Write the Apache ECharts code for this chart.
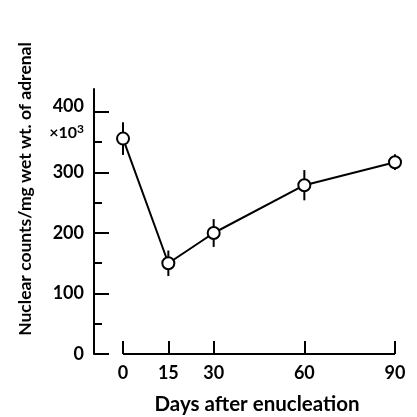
<!DOCTYPE html>
<html>
<head>
<meta charset="utf-8">
<script src="https://cdn.jsdelivr.net/npm/echarts@6/dist/echarts.min.js"></script>
<style>
html,body{margin:0;padding:0;background:#fff;}
#container{width:417px;height:417px;}
</style>
</head>
<body>
<div id="container"></div>
<script>
// days after enucleation and nuclear counts (x10^3)
var days = [0, 15, 30, 60, 90];
var counts = [356, 150, 200, 279, 317];
var errs = [27, 21, 23, 25, 13];
var xTicks = [0, 15, 30, 60, 90];
var yMajor = [0, 100, 200, 300, 400];
var yMinor = [50, 150, 250, 350];

var font = 'Lato';
var fw = 'bold';
var dom = document.getElementById('container');
var myChart = echarts.init(dom);

var lineData = [];
var barData = [];
for (var i = 0; i < days.length; i++) {
	lineData.push([days[i], counts[i]]);
	barData.push([days[i], counts[i] - errs[i], counts[i] + errs[i]]);
}

var option = {
	backgroundColor: '#fff',
	animation: false,
	grid: { left: 94, right: 22, top: 89, bottom: 63, containLabel: false, outerBoundsMode: 'none' },
	xAxis: {
		type: 'value',
		min: -9.6,
		max: 90,
		name: 'Days after enucleation',
		nameLocation: 'middle',
		nameGap: 40,
		nameTextStyle: { fontFamily: font, fontWeight: fw, fontSize: 20.5, color: '#000', padding: [0, 0, 0, 25] },
		axisLine: { show: false, onZero: false },
		splitLine: { show: false },
		axisTick: { show: true, inside: true, length: 13, customValues: xTicks, lineStyle: { color: '#000', width: 2 } },
		axisLabel: { customValues: xTicks, margin: 10, fontFamily: font, fontWeight: fw, fontSize: 18, color: '#000' }
	},
	yAxis: [{
		type: 'value',
		min: 0,
		max: 438,
		position: 'left',
		axisLine: { show: true, onZero: false, lineStyle: { color: '#000', width: 2 } },
		splitLine: { show: false },
		axisTick: { show: true, inside: true, length: 15, customValues: yMajor, lineStyle: { color: '#000', width: 2 } },
		axisLabel: {
			customValues: yMajor,
			margin: 10,
			fontFamily: font,
			fontWeight: fw,
			fontSize: 18,
			color: '#000',
			formatter: function (v) {
				if (v === 400) return '{a|400}\n{b|×10}{c|3}';
				return v;
			},
			rich: {
				a: { fontFamily: font, fontWeight: fw, fontSize: 18, color: '#000', lineHeight: 42 },
				b: { fontFamily: font, fontWeight: fw, fontSize: 16, color: '#000', lineHeight: 12 },
				c: { fontFamily: font, fontWeight: fw, fontSize: 12, color: '#000', lineHeight: 12, padding: [0, 0, 8, 0] }
			}
		}
	}, {
		type: 'value',
		min: 0,
		max: 438,
		position: 'left',
		offset: 0,
		axisLine: { show: false, onZero: false },
		splitLine: { show: false },
		axisTick: { show: true, inside: true, length: 8, customValues: yMinor, lineStyle: { color: '#000', width: 2 } },
		axisLabel: { show: false }
	}],
	graphic: [{
		type: 'text',
		x: 25,
		y: 189,
		rotation: Math.PI / 2,
		style: {
			text: 'Nuclear counts/mg wet wt. of adrenal',
			fontFamily: font,
			fontWeight: fw,
			fontSize: 17.5,
			fill: '#000',
			align: 'center',
			verticalAlign: 'middle'
		}
	}],
	series: [{
		type: 'custom',
		z: 1,
		clip: false,
		renderItem: function (params, api) {
			var top = api.coord([api.value(0), api.value(2)]);
			var bot = api.coord([api.value(0), api.value(1)]);
			return {
				type: 'line',
				shape: { x1: top[0], y1: top[1], x2: bot[0], y2: bot[1] },
				style: { stroke: '#000', lineWidth: 2 }
			};
		},
		data: barData
	}, {
		type: 'line',
		z: 3,
		clip: false,
		data: lineData,
		symbol: 'circle',
		symbolSize: 12,
		lineStyle: { color: '#000', width: 2 },
		itemStyle: { color: '#fff', borderColor: '#000', borderWidth: 2 },
		markLine: {
			silent: true,
			symbol: 'none',
			label: { show: false },
			lineStyle: { color: '#000', width: 2, type: 'solid' },
			data: [[{ coord: [xTicks[0], 0] }, { coord: [xTicks[xTicks.length - 1], 0] }]]
		}
	}]
};
myChart.setOption(option);
</script>
</body>
</html>
